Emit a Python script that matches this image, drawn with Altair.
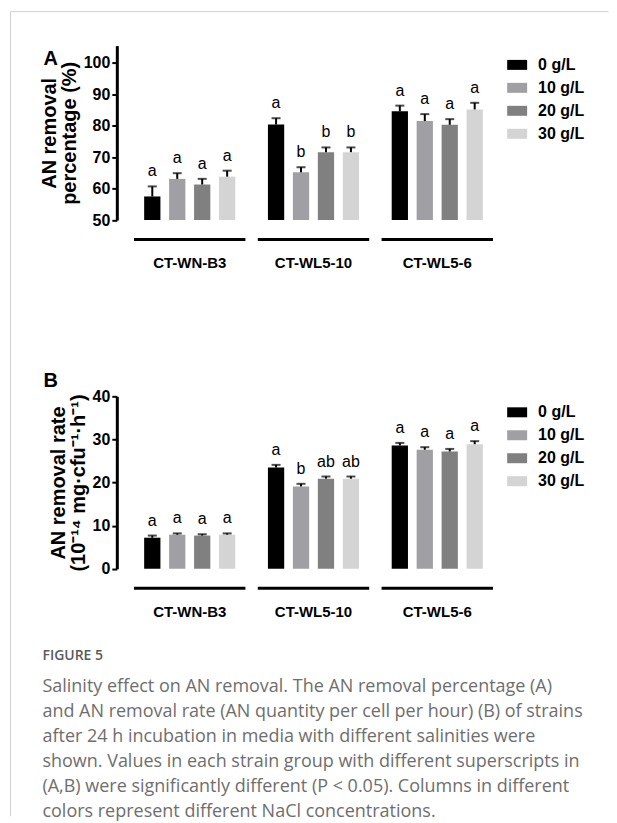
import altair as alt
import pandas as pd

strains = ["CT-WN-B3", "CT-WL5-10", "CT-WL5-6"]
salts = ["0 g/L", "10 g/L", "20 g/L", "30 g/L"]
salt_colors = ["#000000", "#a0a0a4", "#808080", "#d4d4d4"]

pct_mean = [57.5, 63.1, 61.3, 63.8, 80.4, 65.2, 71.6, 71.6, 84.6, 81.5, 80.3, 85.2]
pct_err = [3.2, 1.8, 1.8, 1.9, 2.0, 1.6, 1.5, 1.5, 1.8, 2.2, 1.8, 2.1]
pct_letters = ["a", "a", "a", "a", "a", "b", "b", "b", "a", "a", "a", "a"]

rate_mean = [7.2, 7.9, 7.7, 7.9, 23.5, 19.1, 20.9, 20.9, 28.6, 27.6, 27.2, 28.9]
rate_err = [0.5, 0.3, 0.3, 0.3, 0.6, 0.6, 0.5, 0.5, 0.6, 0.6, 0.6, 0.7]
rate_letters = ["a", "a", "a", "a", "a", "b", "ab", "ab", "a", "a", "a", "a"]

caption_title = "FIGURE 5"
caption_lines = [
    "Salinity effect on AN removal. The AN removal percentage (A)",
    "and AN removal rate (AN quantity per cell per hour) (B) of strains",
    "after 24 h incubation in media with different salinities were",
    "shown. Values in each strain group with different superscripts in",
    "(A,B) were significantly different (P < 0.05). Columns in different",
    "colors represent different NaCl concentrations.",
]

FONT = "Liberation Sans"
W = 394


def make_df(means, errs, letters):
    rows = []
    i = 0
    for s in strains:
        for c in salts:
            rows.append({"strain": s, "salt": c, "mean": means[i],
                         "upper": means[i] + errs[i], "letter": letters[i]})
            i += 1
    return pd.DataFrame(rows)


def panel(df, H, domain, ticks, ytitle, letter, letter_y, leg_y, base):
    xscale = alt.Scale(paddingInner=0.1, paddingOuter=0.139)
    xaxis = alt.Axis(title=None, domain=False, ticks=False, tickSize=0,
                     labelAngle=0, labelFont=FONT, labelFontSize=15,
                     labelFontWeight="bold", labelColor="black",
                     labelBaseline="middle", labelPadding=43)
    xenc = alt.X("strain:N", sort=strains, scale=xscale, axis=xaxis)
    xplain = alt.X("strain:N", sort=strains, axis=xaxis)
    xoff = alt.XOffset("salt:N", sort=salts,
                       scale=alt.Scale(paddingInner=0.348, paddingOuter=0.406))
    xoff2 = alt.XOffset("salt:N", sort=salts)
    yscale = alt.Scale(domain=domain, nice=False, zero=False)
    yaxis = alt.Axis(values=ticks, grid=False, domainWidth=3,
                     domainColor="black", tickColor="black",
                     tickWidth=2, tickSize=5, labelFont=FONT,
                     labelFontSize=16, labelFontWeight="bold",
                     labelColor="black", labelPadding=2,
                     labelOverlap=False,
                     title=ytitle, titleFont=FONT, titleFontSize=20,
                     titleFontWeight="bold", titleColor="black",
                     titlePadding=4, titleLineHeight=20)
    yenc = alt.Y("mean:Q", scale=yscale, axis=yaxis)
    b = alt.Chart(df)
    bars = b.mark_bar().encode(
        x=xenc, xOffset=xoff, y=yenc, y2=alt.Y2Datum(base),
        color=alt.Color("salt:N", sort=salts,
                        scale=alt.Scale(domain=salts, range=salt_colors),
                        legend=alt.Legend(orient="none", legendX=391, legendY=leg_y,
                                          title=None, symbolType="M-1,-0.5H1V0.5H-1Z",
                                          symbolSize=400, symbolStrokeWidth=0,
                                          labelFont=FONT, labelFontSize=16,
                                          labelFontWeight="bold", labelColor="black",
                                          labelOffset=11, rowPadding=5, padding=0)))
    ym = alt.Y("mean:Q", scale=yscale, axis=yaxis)
    yu = alt.Y("upper:Q", scale=yscale, axis=yaxis)
    err = b.mark_rule(strokeWidth=2, color="black").encode(
        x=xplain, xOffset=xoff2, y=ym, y2="upper:Q")
    cap = b.mark_tick(thickness=2, size=9, color="black").encode(
        x=xplain, xOffset=xoff2, y=yu)
    lab = b.mark_text(dy=-10, baseline="alphabetic", font=FONT, fontSize=16,
                      color="black").encode(
        x=xplain, xOffset=xoff2, y=yu, text="letter:N")
    under = alt.Chart(pd.DataFrame({"strain": strains})).mark_bar(color="black").encode(
        x=xplain, y=alt.value(H + 18), y2=alt.value(H + 21))
    one = pd.DataFrame({"t": [letter]})
    let = alt.Chart(one).mark_text(align="left", baseline="alphabetic", font=FONT,
                                   fontSize=20, fontWeight="bold", color="black").encode(
        x=alt.value(-73.5), y=alt.value(letter_y), text="t:N")
    return [bars, err, cap, lab, under, let]


dfA = make_df(pct_mean, pct_err, pct_letters)
dfB = make_df(rate_mean, rate_err, rate_letters)

HA = 174.7
HB = 172.7

layersA = panel(dfA, HA, [50, 105.5], [50, 60, 70, 80, 90, 100],
                ["AN removal", "percentage (%)"], "A", 19.5, 9.3, 50)
layersB = panel(dfB, HB, [0, 40], [0, 10, 20, 30, 40],
                ["AN removal rate", "(10\u207b\u00b9\u2074 mg\u00b7cfu\u207b\u00b9\u00b7h\u207b\u00b9)"],
                "B", -9, 6, 0)

k = pd.DataFrame({"k": [0]})
border_left = alt.Chart(k).mark_rule(color="#d0d0d0", strokeWidth=1).encode(
    x=alt.value(-106.5), y=alt.value(-34), y2=alt.value(772))
border_top = alt.Chart(k).mark_rule(color="#d0d0d0", strokeWidth=1).encode(
    x=alt.value(-106.5), x2=alt.value(492.5), y=alt.value(-34))

fig = alt.Chart(pd.DataFrame({"t": [caption_title]})).mark_text(
    align="left", baseline="top", font="Open Sans", fontSize=14, fontWeight=600,
    color="#5a5a5a").encode(x=alt.value(-74.5), y=alt.value(253), text="t:N")
cap_text = alt.Chart(pd.DataFrame({"t": ["\n".join(caption_lines)]})).mark_text(
    align="left", baseline="top", font="Open Sans", fontSize=18, color="#6e6e6e",
    lineBreak="\n", lineHeight=25).encode(
    x=alt.value(-74.5), y=alt.value(282), text="t:N")

chartA = alt.layer(border_left, border_top, *layersA).properties(width=W, height=HA)
chartB = alt.layer(*layersB, fig, cap_text).properties(width=W, height=HB)

chart = alt.vconcat(chartA, chartB, spacing=176.3, bounds="flush").resolve_legend(
    color="independent").properties(
    padding={"left": 2, "top": 2, "right": 0, "bottom": 0}
).configure_view(stroke=None)

chart.save("out.html", embed_options={"renderer": "svg", "actions": False})
